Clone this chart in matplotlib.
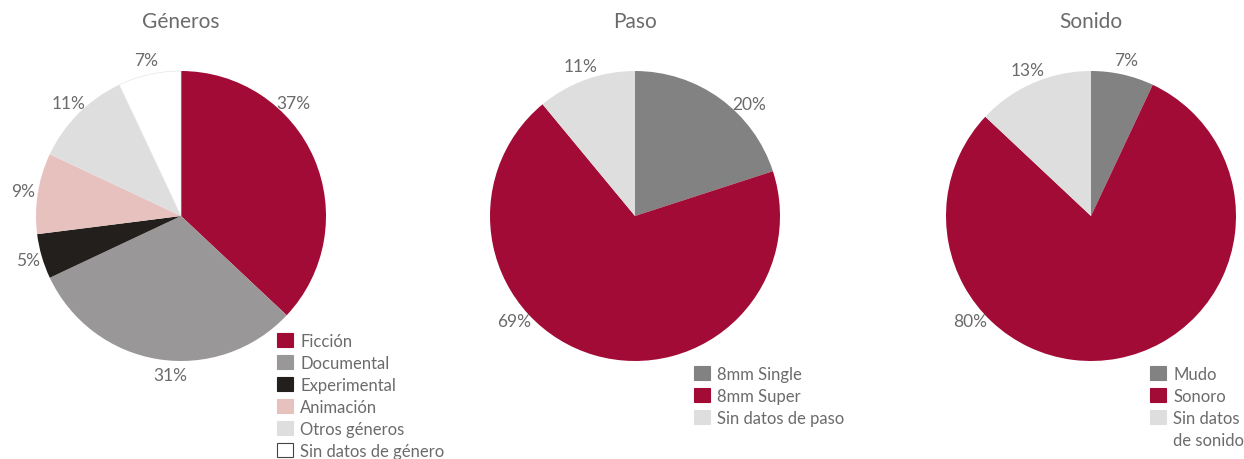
import numpy as np
import matplotlib
matplotlib.use('Agg')
import matplotlib.pyplot as plt
from matplotlib.patches import Patch

plt.rcParams['font.family'] = ['Lato', 'DejaVu Sans']

# data
generos_labels = ['Ficción', 'Documental', 'Experimental', 'Animación', 'Otros géneros', 'Sin datos de género']
generos_values = [37, 31, 5, 9, 11, 7]
generos_colors = ['#a20b35', '#999797', '#231f1c', '#e6c1be', '#dedede', '#ffffff']

paso_labels = ['8mm Single', '8mm Super', 'Sin datos de paso']
paso_values = [20, 69, 11]
paso_colors = ['#828282', '#a20b35', '#dedede']

sonido_labels = ['Mudo', 'Sonoro', 'Sin datos', 'de sonido']
sonido_values = [7, 80, 13]
sonido_colors = ['#828282', '#a20b35', '#dedede']

TEXT = '#6b6b6b'
W, H = 1244, 460
R = 145


def draw_pie(cx, cy, title, values, colors, label_angles=None, edge_last=False):
    ax = fig.add_axes([(cx - R) / W, (H - cy - R) / H, 2 * R / W, 2 * R / H])
    wedges, _ = ax.pie(values, colors=colors, startangle=90, counterclock=False,
                       radius=1, wedgeprops=dict(linewidth=0))
    if edge_last:
        wedges[-1].set_edgecolor('#e6e6e6')
        wedges[-1].set_linewidth(0.5)
    ax.set_xlim(-1, 1)
    ax.set_ylim(-1, 1)
    ax.set_aspect('equal')
    ax.axis('off')
    label_angles = label_angles or {}
    for i, (w, v) in enumerate(zip(wedges, values)):
        ang = label_angles.get(i, (w.theta1 + w.theta2) / 2)
        r = 1.1
        ax.text(r * np.cos(np.radians(ang)), r * np.sin(np.radians(ang)), f'{v}%',
                ha='center', va='center', fontsize=12.5, color=TEXT)
    fig.text(cx / W, 1 - 22 / H, title, ha='center', va='center', fontsize=15, color=TEXT)
    return wedges


def add_legend(x, y, labels, colors, edges=None):
    handles = []
    for i, (lab, c) in enumerate(zip(labels, colors)):
        ec = edges[i] if edges else c
        handles.append(Patch(facecolor=c, edgecolor=ec, linewidth=0.8, label=lab))
    fig.legend(handles=handles, loc='upper left', bbox_to_anchor=(x / W, 1 - y / H),
               frameon=False, borderpad=0, borderaxespad=0, fontsize=12,
               handlelength=0.95, handleheight=0.95, handletextpad=0.45,
               labelspacing=0.36, labelcolor=TEXT)


fig = plt.figure(figsize=(W / 100, H / 100), dpi=100)

draw_pie(181, 217, 'Géneros', generos_values, generos_colors,
         label_angles={0: 45, 1: -94}, edge_last=True)
draw_pie(635, 217, 'Paso', paso_values, paso_colors, label_angles={0: 44.5, 1: 221})
draw_pie(1091, 217, 'Sonido', sonido_values, sonido_colors, label_angles={1: 221})

add_legend(277, 334, generos_labels, generos_colors,
           edges=['#a20b35', '#999797', '#231f1c', '#e6c1be', '#dedede', '#444444'])
add_legend(694, 367, paso_labels, paso_colors)
add_legend(1150, 367, sonido_labels, sonido_colors + ['none'],
           edges=sonido_colors + ['none'])

fig.savefig('out.png', dpi=100)
